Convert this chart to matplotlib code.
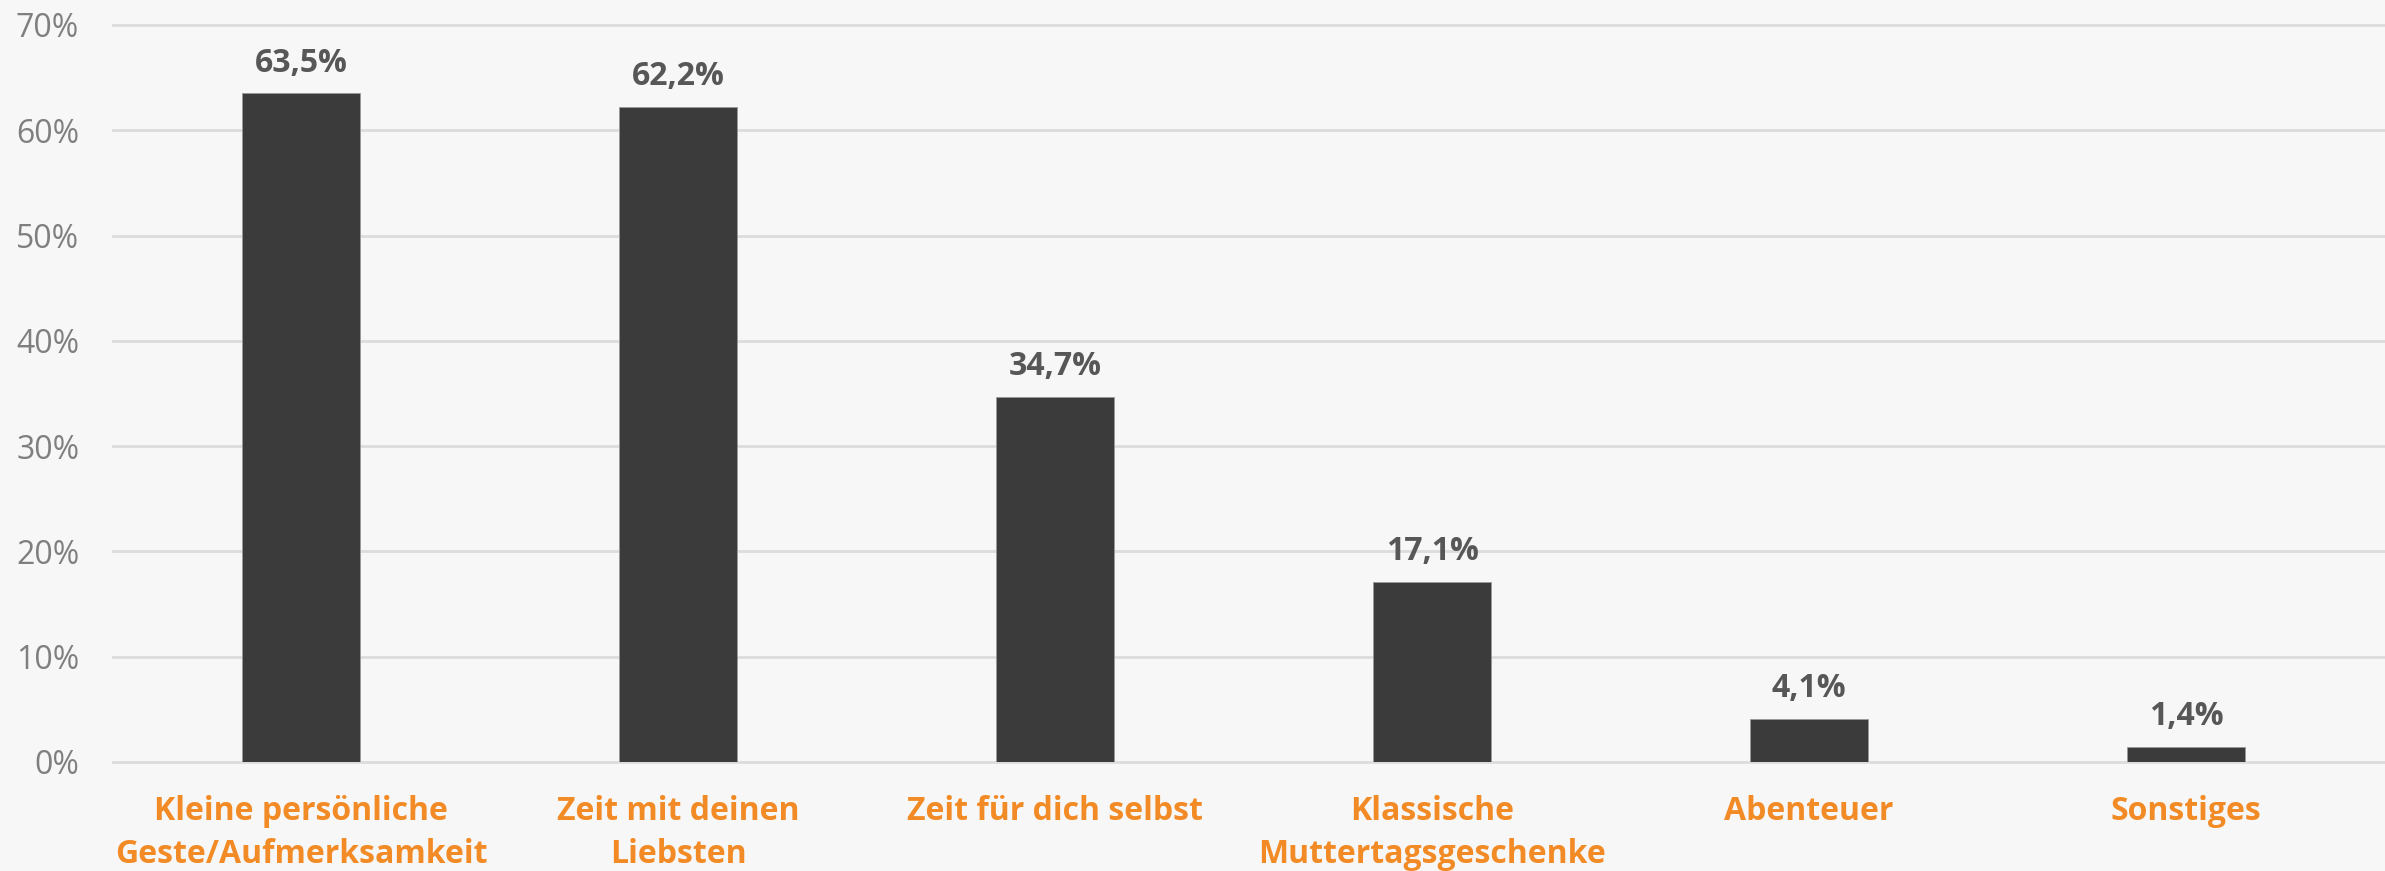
import matplotlib.pyplot as plt
from matplotlib.ticker import FuncFormatter

categories = [
    "Kleine persönliche\nGeste/Aufmerksamkeit",
    "Zeit mit deinen\nLiebsten",
    "Zeit für dich selbst",
    "Klassische\nMuttertagsgeschenke",
    "Abenteuer",
    "Sonstiges",
]
values = [63.5, 62.2, 34.7, 17.1, 4.1, 1.4]
yticks = [0, 10, 20, 30, 40, 50, 60, 70]

BG = "#f7f7f7"
BAR = "#3b3b3b"
ORANGE = "#f28b26"

plt.rcParams["font.family"] = ["Open Sans", "DejaVu Sans"]

fig = plt.figure(figsize=(23.85, 8.71), dpi=100, facecolor=BG)
ax = fig.add_axes([0.0472, 0.1252, 0.9484, 0.8461], facecolor=BG)

x = list(range(len(categories)))
ax.bar(x, values, width=0.313, color=BAR, edgecolor="#9a9a9a", linewidth=0.6, zorder=3)

for xi, v in zip(x, values):
    ax.annotate(f"{v:.1f}%".replace(".", ","), (xi, v), xytext=(0, 10),
                textcoords="offset points", ha="center", va="bottom",
                fontsize=23, fontweight="bold", color="#575757")

ax.set_xlim(-0.5, len(categories) - 0.5)
ax.set_ylim(0, 70)
ax.set_yticks(yticks)
ax.yaxis.set_major_formatter(FuncFormatter(lambda v, _p: f"{v:.0f}%"))
# gridlines run on to the right edge of the figure
for t in yticks:
    ax.axhline(t, xmin=0, xmax=1.01, color="#dcdcdc", linewidth=2,
               zorder=0, clip_on=False)

ax.set_xticks(x)
ax.set_xticklabels(categories, fontsize=23, fontweight="bold", color=ORANGE,
                   linespacing=1.4)
ax.tick_params(axis="x", length=0, pad=24)
ax.tick_params(axis="y", length=0, pad=24, labelsize=23, labelcolor="#7f7f7f")

for s in ax.spines.values():
    s.set_visible(False)

fig.savefig("out.png", dpi=100, facecolor=BG)
